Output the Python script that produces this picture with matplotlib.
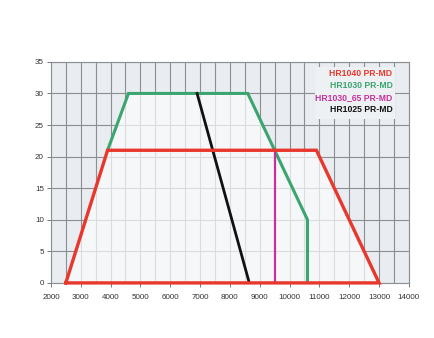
import matplotlib
matplotlib.use("Agg")
import matplotlib.pyplot as plt
from matplotlib.patches import Polygon

# Data
hr1040_x = [2500, 3900, 10900, 13000, 2500]
hr1040_y = [0, 21, 21, 0, 0]
hr1030_x = [3900, 4600, 8600, 10600, 10600]
hr1030_y = [21, 30, 30, 10, 0]
hr1030_65_x = [9500, 9500]
hr1030_65_y = [21, 0]
hr1025_x = [6900, 8650]
hr1025_y = [30, 0]
envelope_x = [2500, 3900, 4600, 8600, 9500, 10900, 13000]
envelope_y = [0, 21, 30, 30, 21, 21, 0]

labels = ["HR1040 PR-MD", "HR1030 PR-MD", "HR1030_65 PR-MD", "HR1025 PR-MD"]
label_colors = ["#e8372c", "#3aa56e", "#c8309a", "#111111"]

x_ticks = list(range(2000, 14001, 1000))
y_ticks = list(range(0, 36, 5))

fig = plt.figure(figsize=(4.35, 3.38), dpi=100)
fig.patch.set_facecolor("white")
ax = fig.add_axes([0.117, 0.163, 0.823, 0.654])
ax.set_facecolor("#e9edf1")
ax.set_xlim(2000, 14000)
ax.set_ylim(0, 35)

# grid
for xv in range(2000, 14001, 500):
    ax.axvline(xv, color="#8c8f92", lw=0.8, zorder=1)
for yv in y_ticks:
    ax.axhline(yv, color="#8c8f92", lw=0.8, zorder=1)

# envelope fill (lightens grid inside)
poly = Polygon(list(zip(envelope_x, envelope_y)), closed=True,
               facecolor="#fafbfc", alpha=0.72, edgecolor="none", zorder=2)
ax.add_patch(poly)

ax.plot(hr1030_x, hr1030_y, color="#3aa56e", lw=2.2, zorder=4, solid_joinstyle="miter")
ax.plot(hr1025_x, hr1025_y, color="#111111", lw=2.0, zorder=4)
ax.plot(hr1030_65_x, hr1030_65_y, color="#c8309a", lw=1.6, zorder=4)
ax.plot(hr1040_x, hr1040_y, color="#e8372c", lw=2.4, zorder=5, solid_joinstyle="miter", clip_on=False)

# legend box
ax.add_patch(plt.Rectangle((10850, 25.9), 2700, 8.3, facecolor="#eef1f4",
                           edgecolor="none", zorder=3))
ytxt = [33.2, 31.2, 29.3, 27.5]
for lab, c, yy in zip(labels, label_colors, ytxt):
    ax.text(13450, yy, lab, color=c, ha="right", va="center", fontsize=6.2,
            fontweight="bold", family=["Liberation Sans Narrow", "Liberation Sans"], zorder=6)

ax.set_xticks(x_ticks)
ax.set_yticks(y_ticks)
ax.tick_params(axis="both", labelsize=5.8, colors="#333333", length=3, width=0.7,
               color="#777777", pad=2)
for lbl in ax.get_xticklabels() + ax.get_yticklabels():
    lbl.set_family(["Liberation Sans Narrow", "Liberation Sans"])
ax.tick_params(axis="x", pad=5)
for s in ax.spines.values():
    s.set_color("#8c8f92")
    s.set_linewidth(0.8)

fig.savefig("out.png", dpi=100)
